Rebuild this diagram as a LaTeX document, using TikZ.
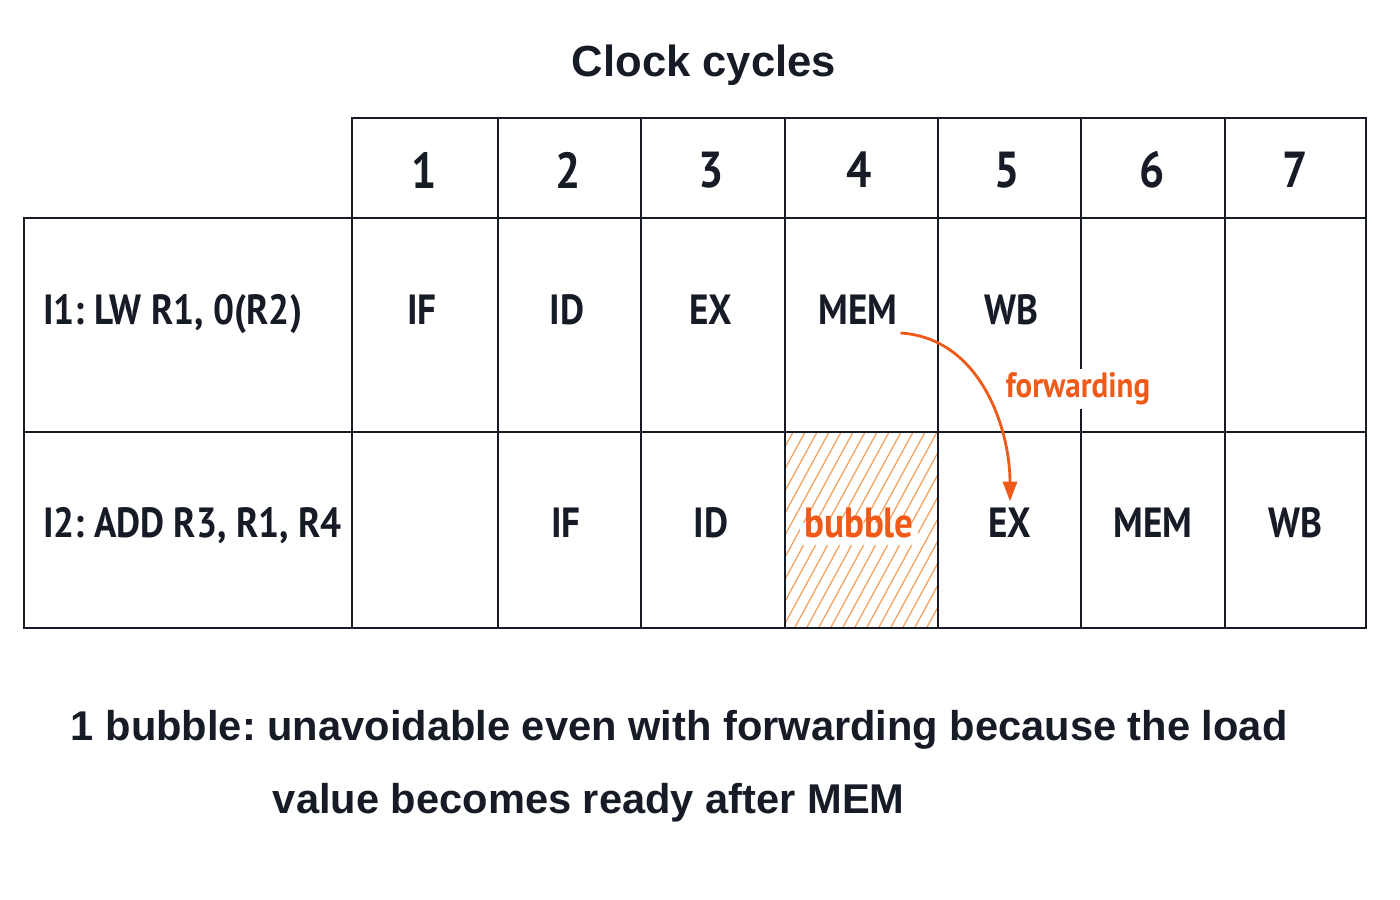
\documentclass[tikz,border=0pt]{standalone}
\usepackage{fontspec}
\setmainfont{PT Sans}[FakeStretch=0.88]
\newfontfamily\titlefont{Liberation Sans}
\usetikzlibrary{arrows.meta, positioning}
\definecolor{ink}{HTML}{161B26}
\definecolor{accent}{HTML}{F05A19}
\definecolor{hatch}{HTML}{F3A25E}
\frenchspacing

\begin{document}
\begin{tikzpicture}[x=0.025cm, y=-0.025cm,
    cell/.style={font=\fontsize{30}{32}\selectfont\bfseries, text=ink, inner sep=2pt,
        text height=0.75em, text depth=0.25em},
    num/.style={font=\fontsize{36}{40}\selectfont\bfseries, text=ink},
    note/.style={font=\titlefont\fontsize{29.6}{34}\selectfont\bfseries, text=ink, anchor=base west},
    grid/.style={draw=ink, line width=1.6pt}]
    \useasboundingbox (0,0) rectangle (1400,900);
    % Title
    \node [font=\titlefont\fontsize{31}{36}\selectfont\bfseries, text=ink] (title) at (704,65) {Clock cycles};
    % Hatched bubble slot
    \begin{scope}
        \clip (785,432) rectangle (938,628);
        \foreach \i in {0,...,32}
            \draw [hatch, line width=0.9pt] (620+\i*12,640) -- ++(125,-230);
    \end{scope}
    % Table
    \draw [grid] (352,118) rectangle (1366,628);
    \draw [grid] (24,218) rectangle (1366,628);
    \draw [grid] (24,432) -- (1366,432);
    \foreach \x in {498,641,785,938,1081,1225}
        \draw [grid] (\x,118) -- (\x,628);
    % Cycle numbers
    \foreach \n/\x in {1/424,2/568,3/711,4/859,5/1007,6/1152,7/1295}
        \node [num] (c\n) at (\x,170) {\n};
    % Instruction 1
    \node [cell, anchor=west] (ins1) at (40,321) {I1: LW R1, 0(R2)};
    \node [cell] (if1) at (422,321) {IF};
    \node [cell] (id1) at (567,321) {ID};
    \node [cell] (ex1) at (711,321) {EX};
    \node [cell] (mem1) at (858,321) {MEM};
    \node [cell] (wb1) at (1011,321) {WB};
    % Instruction 2
    \node [cell, anchor=west] (ins2) at (40,534) {I2: ADD R3, R1, R4};
    \node [cell] (if2) at (566,534) {IF};
    \node [cell] (id2) at (711,534) {ID};
    \node [cell, text=accent, fill=white, inner sep=3pt] (bub2) at (859,534) {bubble};
    \node [cell] (ex2) at (1010,534) {EX};
    \node [cell] (mem2) at (1153,534) {MEM};
    \node [cell] (wb2) at (1295,534) {WB};
    % Forwarding path
    \node [font=\fontsize{25}{28}\selectfont\bfseries, text=accent, fill=white, inner sep=3pt] (fwd) at (1078,389) {forwarding};
    \draw [accent, line width=2pt, -{Triangle[length=14pt, width=10pt]}, shorten >=16pt]
        (mem1.east |- 0,333) .. controls +(80,5) and +(0,-95) .. (ex2.north);
    % Note
    \node [note] (note1) at (66,740) {1 bubble: unavoidable even with forwarding because the load};
    \node [note] (note2) at (268,813) {value becomes ready after MEM};
\end{tikzpicture}
\end{document}
